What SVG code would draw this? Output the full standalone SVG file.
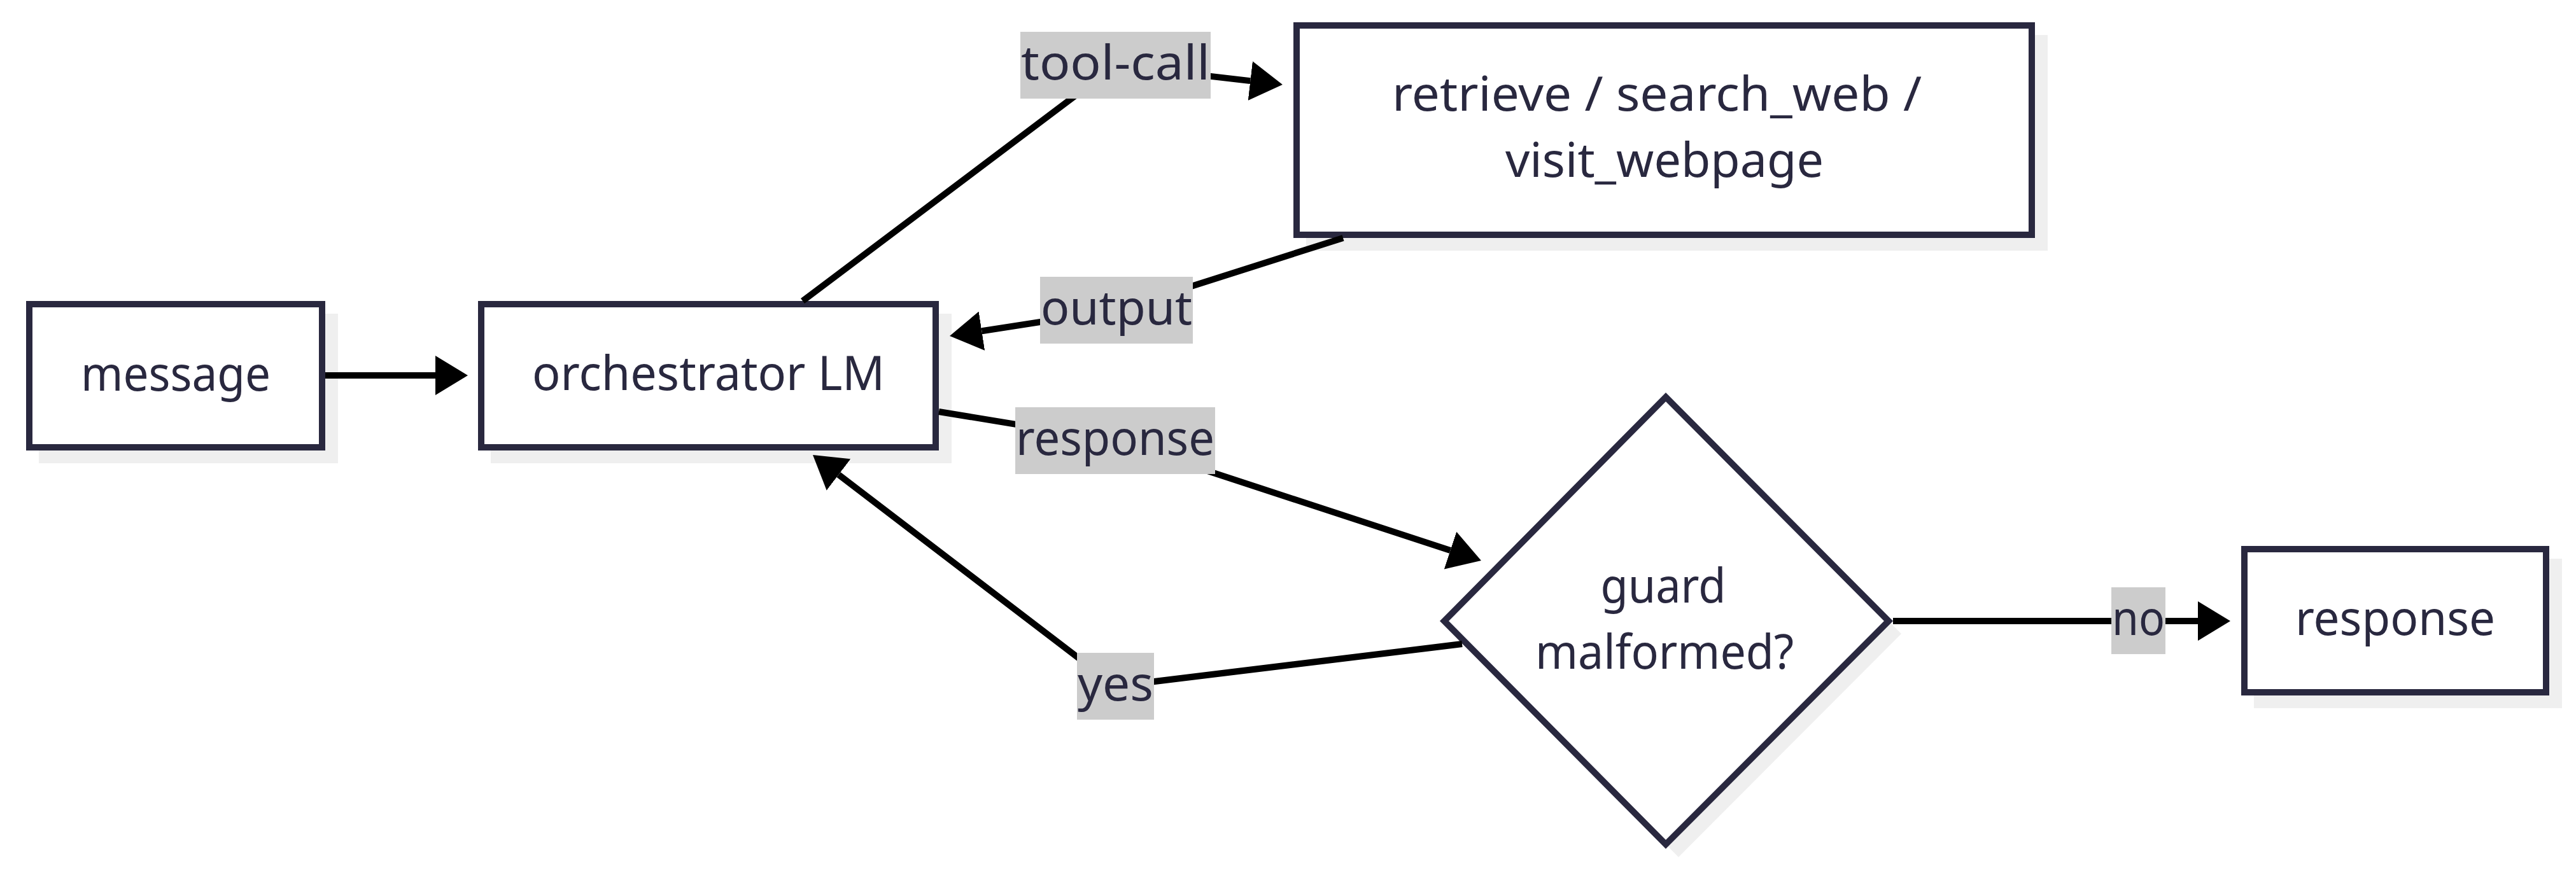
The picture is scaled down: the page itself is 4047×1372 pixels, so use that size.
<svg xmlns="http://www.w3.org/2000/svg" width="4047" height="1372" viewBox="0 0 4047 1372">
<defs>
<style>
.shadow{fill:#efefef;stroke:none}
.node{fill:#ffffff;stroke:#29283f;stroke-width:10}
.txt{font-family:"Noto Sans","DejaVu Sans",sans-serif;font-size:74px;fill:#29283f;text-anchor:middle}
.edge{fill:none;stroke:#000000;stroke-width:10;stroke-linejoin:miter}
.lbl{fill:#cccccc;stroke:none}
</style>
<marker id="arrow" markerUnits="userSpaceOnUse" viewBox="0 0 51 62" markerWidth="51" markerHeight="62" refX="0" refY="31" orient="auto">
<path d="M0,0 L51,31 L0,62 z" fill="#000000"/>
</marker>
</defs>
<rect x="0" y="0" width="4047" height="1372" fill="#ffffff"/>

<g id="node-message">
<rect class="shadow" x="61" y="493" width="470" height="235"/>
<rect class="node" x="46" y="478" width="460" height="225"/>
<text class="txt" x="276" y="614" textLength="298" lengthAdjust="spacingAndGlyphs">message</text>
</g>

<g id="node-orchestrator">
<rect class="shadow" x="771" y="493" width="724" height="235"/>
<rect class="node" x="756" y="478" width="714" height="225"/>
<text class="txt" x="1113" y="613" textLength="554" lengthAdjust="spacingAndGlyphs">orchestrator LM</text>
</g>

<g id="node-tools">
<rect class="shadow" x="2052" y="55" width="1165" height="339"/>
<rect class="node" x="2037" y="40" width="1155" height="329"/>
<text class="txt" x="2603" y="174" textLength="832" lengthAdjust="spacingAndGlyphs">retrieve / search_web /</text>
<text class="txt" x="2615" y="278" textLength="500" lengthAdjust="spacingAndGlyphs">visit_webpage</text>
</g>

<g id="node-guard">
<polygon class="shadow" points="2637,644 2987,996 2637,1347 2289,996"/>
<polygon class="node" points="2617,624 2967,976 2617,1327 2269,976"/>
<text class="txt" x="2613" y="947" textLength="197" lengthAdjust="spacingAndGlyphs">guard</text>
<text class="txt" x="2615" y="1051" textLength="406" lengthAdjust="spacingAndGlyphs">malformed?</text>
</g>

<g id="node-response">
<rect class="shadow" x="3541" y="878" width="484" height="235"/>
<rect class="node" x="3526" y="863" width="474" height="225"/>
<text class="txt" x="3763" y="998" textLength="314" lengthAdjust="spacingAndGlyphs">response</text>
</g>

<g id="connectors">
<polyline class="edge" points="511,590 684,590" marker-end="url(#arrow)"/>
<polyline class="edge" points="1261,473 1753,102.5 1964.3,127.1" marker-end="url(#arrow)"/>
<polyline class="edge" points="2110,374 1754,487.5 1542.4,520.2" marker-end="url(#arrow)"/>
<polyline class="edge" points="1475,647 1752,692.5 2278.5,865.1" marker-end="url(#arrow)"/>
<polyline class="edge" points="2297,1012 1752.5,1078.5 1317.5,746" marker-end="url(#arrow)"/>
<polyline class="edge" points="2974,976 3360,976 3453,976" marker-end="url(#arrow)"/>

<g id="label-toolcall">
<rect class="lbl" x="1603" y="50" width="299" height="105"/>
<text class="txt" x="1752.5" y="125" textLength="297" lengthAdjust="spacingAndGlyphs">tool-call</text>
</g>
<g id="label-output">
<rect class="lbl" x="1634" y="435" width="240" height="105"/>
<text class="txt" x="1754" y="510" textLength="238" lengthAdjust="spacingAndGlyphs">output</text>
</g>
<g id="label-response">
<rect class="lbl" x="1595" y="640" width="314" height="105"/>
<text class="txt" x="1752" y="715" textLength="312" lengthAdjust="spacingAndGlyphs">response</text>
</g>
<g id="label-yes">
<rect class="lbl" x="1692" y="1026" width="121" height="105"/>
<text class="txt" x="1752.5" y="1101" textLength="119" lengthAdjust="spacingAndGlyphs">yes</text>
</g>
<g id="label-no">
<rect class="lbl" x="3317" y="923" width="85" height="105"/>
<text class="txt" x="3359.5" y="998" textLength="83" lengthAdjust="spacingAndGlyphs">no</text>
</g>
</g>
</svg>
